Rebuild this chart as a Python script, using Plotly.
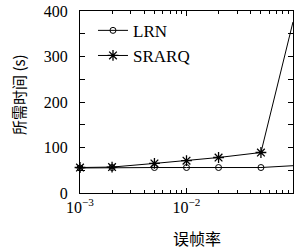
import plotly.graph_objects as go

error_rate = [0.001, 0.002, 0.005, 0.01, 0.02, 0.05, 0.1]
lrn_time = [55, 56, 56, 56, 56, 56, 60]
srarq_time = [56, 57, 65, 71, 78, 89, 376]
y_ticks = [0, 100, 200, 300, 400]
x_tickvals = [0.001, 0.01, 0.1]
x_ticktext = ["10<sup>−3</sup>", "10<sup>−2</sup>", "10<sup>−1</sup>"]
x_minor = [0.002, 0.003, 0.004, 0.005, 0.006, 0.007, 0.008, 0.009,
           0.02, 0.03, 0.04, 0.05, 0.06, 0.07, 0.08, 0.09]

serif = "Liberation Serif"
cjk = "Noto Sans CJK SC"

fig = go.Figure()
fig.add_trace(go.Scatter(
    x=error_rate, y=lrn_time, name="LRN", mode="lines+markers",
    line=dict(color="black", width=1),
    marker=dict(symbol="circle-open", size=6, color="black", line=dict(width=1)),
    cliponaxis=False,
))
fig.add_trace(go.Scatter(
    x=error_rate, y=srarq_time, name="SRARQ", mode="lines+markers",
    line=dict(color="black", width=1),
    marker=dict(symbol="asterisk-open", size=9, color="black", line=dict(width=1.3)),
    cliponaxis=False,
))

fig.update_layout(
    width=302, height=250,
    margin=dict(l=80, r=9, t=11, b=57, autoexpand=False),
    paper_bgcolor="white", plot_bgcolor="white",
    font=dict(family=serif, size=16, color="black"),
    showlegend=True,
    legend=dict(x=0.061, y=0.99, xanchor="left", yanchor="top",
                bgcolor="rgba(0,0,0,0)", font=dict(family=serif, size=17),
                tracegroupgap=0, itemwidth=30),
)
fig.update_xaxes(
    type="log", range=[-3, -1], automargin=False,
    tickvals=x_tickvals, ticktext=x_ticktext,
    ticks="inside", ticklen=5, tickcolor="black",
    showline=True, linecolor="black", linewidth=1, mirror="ticks",
    showgrid=False, zeroline=False,
    minor=dict(tickvals=x_minor, ticks="inside", ticklen=3, tickcolor="black", showgrid=False),
    tickfont=dict(family=serif, size=16),
)
fig.update_yaxes(
    range=[0, 400], tickvals=y_ticks, automargin=False,
    ticks="inside", ticklen=5, tickcolor="black", ticklabelstandoff=8,
    showline=True, linecolor="black", linewidth=1, mirror="ticks",
    showgrid=False, zeroline=False,
    minor=dict(dtick=50, ticks="inside", ticklen=5, tickcolor="black", showgrid=False),
    tickfont=dict(family=serif, size=16),
)
fig.add_annotation(text="误帧率", xref="paper", yref="paper", x=0.55, y=-0.247,
                   showarrow=False, yanchor="middle", xanchor="center",
                   font=dict(family=cjk, size=16, color="black"))
fig.add_annotation(text="所需时间 (s)", xref="paper", yref="paper", x=-0.29, y=0.54,
                   showarrow=False, textangle=-90, xanchor="center", yanchor="middle",
                   font=dict(family=cjk, size=15, color="black"))

fig.write_html("out.html", config={"displayModeBar": False},
               post_script="document.body.style.margin='0';")
